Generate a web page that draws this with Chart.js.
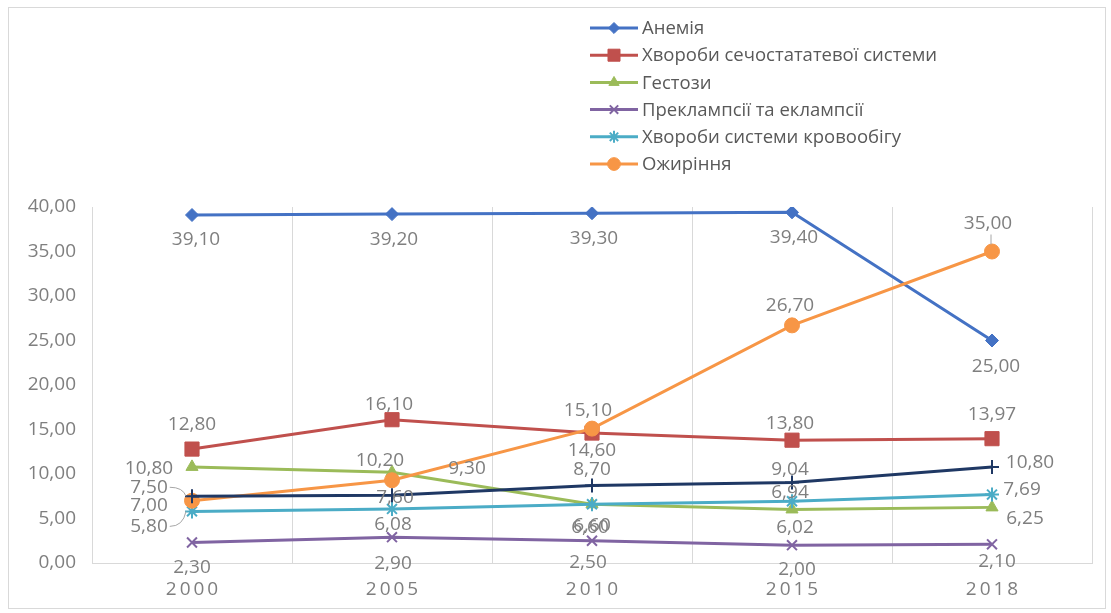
<!DOCTYPE html>
<html lang="uk">
<head>
  <meta charset="UTF-8">
  <title>Динаміка захворювань</title>
  <style>
    html, body { margin: 0; padding: 0; background: #fff; }
    #wrap { position: relative; width: 1111px; height: 613px; }
    #frame { position: absolute; left: 8px; top: 7px; width: 1098px; height: 602px; border: 1px solid #d9d9d9; box-sizing: border-box; }
    #chart { position: absolute; left: 0; top: 0; }
  </style>
  <script src="https://cdn.jsdelivr.net/npm/chart.js"></script>
</head>
<body>
<div id="wrap">
  <div id="frame"></div>
  <canvas id="chart" width="1111" height="613"></canvas>
</div>

<script>
  // values per year
  const years = ['2000', '2005', '2010', '2015', '2018'];
  const anemia       = [39.10, 39.20, 39.30, 39.40, 25.00];
  const urogenital   = [12.80, 16.10, 14.60, 13.80, 13.97];
  const gestosis     = [10.80, 10.20, 6.60, 6.02, 6.25];
  const preeclampsia = [2.30, 2.90, 2.50, 2.00, 2.10];
  const circulatory  = [5.80, 6.08, 6.60, 6.94, 7.69];
  const obesity      = [7.00, 9.30, 15.10, 26.70, 35.00];
  const otherSeries  = [7.50, 7.60, 8.70, 9.04, 10.80];

  const yMin = 0, yMax = 40, yStep = 5;

  const FONT = '"Open Sans", "Liberation Sans", sans-serif';
  const GREY = '#7f7f7f';
  const LABEL_SIZE = 19;

  // comma decimal, two places
  const fmt = v => Number(v).toFixed(2).replace('.', ',');

  // label offsets from the point: [dx, dy, leader]  ('left' / 'up' leader lines)
  const anemiaLbl = [[4, 25], [2, 25], [2, 25], [2, 25], [4, 26]];
  const urogLbl   = [[0, -24], [-3, -15], [0, 18], [-2, -17], [0, -24]];
  const gestLbl   = [[-43, 2], [-12, -12], [-2, 23], [3, 18], [33, 11]];
  const preLbl    = [[0, 25], [1, 26], [-4, 22], [5, 24], [5, 17]];
  const circLbl   = [[-43, 15, 'left'], [1, 16], [0, 21], [-2, -9], [30, -5]];
  const obesLbl   = [[-43, 5], [75, -12], [-4, -18], [-2, -20], [-4, -28, 'up']];
  const otherLbl  = [[-43, -9, 'left'], [3, 2], [0, -16], [-2, -13], [38, -4]];

  function series(label, data, color, style, radius, lbl, extra) {
    return Object.assign({
      label: label,
      data: data,
      borderColor: color,
      backgroundColor: color,
      pointBackgroundColor: color,
      pointBorderColor: color,
      borderWidth: 3,
      pointStyle: style,
      pointRadius: radius,
      pointHoverRadius: radius,
      pointBorderWidth: 1,
      tension: 0,
      fill: false,
      labelOffsets: lbl
    }, extra || {});
  }

  const datasets = [
    series('Анемія', anemia, '#4472C4', 'rectRot', 6.5, anemiaLbl),
    series('Хвороби сечостататевої системи', urogenital, '#C0504D', 'rect', 10, urogLbl),
    series('Гестози', gestosis, '#9BBB59', 'triangle', 7, gestLbl),
    series('Преклампсії та еклампсії', preeclampsia, '#8064A2', 'crossRot', 7, preLbl, { pointBorderWidth: 2 }),
    series('Хвороби системи кровообігу', circulatory, '#4BACC6', 'star', 7, circLbl, { pointBorderWidth: 2 }),
    series('Ожиріння', obesity, '#F79646', 'circle', 7.5, obesLbl),
    series('', otherSeries, '#1F3864', 'cross', 7, otherLbl, { pointBorderWidth: 2, hideInLegend: true })
  ];
  // later series on top
  datasets.forEach((d, i) => { d.order = -i; });

  // value labels next to every point
  const pointLabels = {
    id: 'pointLabels',
    afterDatasetsDraw(chart) {
      const ctx = chart.ctx;
      ctx.save();
      ctx.font = LABEL_SIZE + 'px ' + FONT;
      ctx.fillStyle = GREY;
      ctx.textAlign = 'center';
      ctx.textBaseline = 'middle';
      chart.data.datasets.forEach((ds, i) => {
        const meta = chart.getDatasetMeta(i);
        meta.data.forEach((pt, j) => {
          const off = ds.labelOffsets[j];
          const x = pt.x + off[0], y = pt.y + off[1];
          const text = fmt(ds.data[j]);
          if (off[2]) {
            const w = ctx.measureText(text).width;
            ctx.strokeStyle = '#a6a6a6';
            ctx.lineWidth = 1;
            ctx.beginPath();
            if (off[2] === 'left') {
              ctx.moveTo(x + w / 2 + 2, y);
              ctx.quadraticCurveTo(pt.x - 9, y, pt.x - 6, pt.y);
            } else {
              ctx.moveTo(pt.x - 1, y + 11);
              ctx.lineTo(pt.x - 1, pt.y - 7);
            }
            ctx.stroke();
          }
          ctx.fillText(text, x, y);
        });
      });
      ctx.restore();
    }
  };

  // vertical legend in the top right corner
  const sideLegend = {
    id: 'sideLegend',
    afterDraw(chart) {
      const ctx = chart.ctx;
      const x0 = 590, x1 = 638, top = 28, step = 27.2;
      let k = 0;
      ctx.save();
      ctx.font = '18.5px ' + FONT;
      ctx.textBaseline = 'middle';
      ctx.textAlign = 'left';
      chart.data.datasets.forEach(ds => {
        if (ds.hideInLegend) return;
        const y = top + k * step;
        ctx.strokeStyle = ds.borderColor;
        ctx.fillStyle = ds.borderColor;
        ctx.lineWidth = 3;
        ctx.beginPath();
        ctx.moveTo(x0, y);
        ctx.lineTo(x1, y);
        ctx.stroke();
        ctx.lineWidth = ds.pointBorderWidth;
        Chart.helpers.drawPoint(ctx, {
          pointStyle: ds.pointStyle,
          radius: ds.pointRadius * 0.85,
          borderWidth: ds.pointBorderWidth,
          rotation: 0
        }, (x0 + x1) / 2, y);
        ctx.fillStyle = '#595959';
        ctx.fillText(ds.label, x1 + 4, y + 1);
        k++;
      });
      ctx.restore();
    }
  };

  // spaced-out year labels
  const spacedYears = {
    id: 'spacedYears',
    beforeDraw(chart) {
      const xs = chart.scales.x;
      if (xs._spaced) return;
      const orig = xs.drawLabels.bind(xs);
      xs.drawLabels = function (area) {
        const c = this.ctx;
        c.save();
        c.letterSpacing = '3px';
        c.translate(1.5, 0);
        orig(area);
        c.restore();
      };
      xs._spaced = true;
    }
  };

  new Chart(document.getElementById('chart'), {
    type: 'line',
    data: { labels: years, datasets: datasets },
    options: {
      responsive: false,
      animation: false,
      layout: { padding: { left: 10, top: 207, right: 19, bottom: 0 } },
      plugins: {
        legend: { display: false },
        tooltip: { enabled: false }
      },
      scales: {
        x: {
          offset: true,
          grid: { offset: true, color: '#d9d9d9', lineWidth: 1, drawTicks: false },
          border: { color: '#d9d9d9' },
          ticks: { color: GREY, font: { family: FONT, size: LABEL_SIZE }, padding: 15 },
          afterFit(s) { s.height = 50; }
        },
        y: {
          min: yMin,
          max: yMax,
          grid: { display: false, drawTicks: false },
          border: { display: false },
          ticks: {
            stepSize: yStep,
            color: GREY,
            font: { family: FONT, size: LABEL_SIZE },
            padding: 16,
            callback: v => fmt(v)
          },
          afterFit(s) { s.width = 82; }
        }
      }
    },
    plugins: [pointLabels, sideLegend, spacedYears]
  });
</script>
</body>
</html>
